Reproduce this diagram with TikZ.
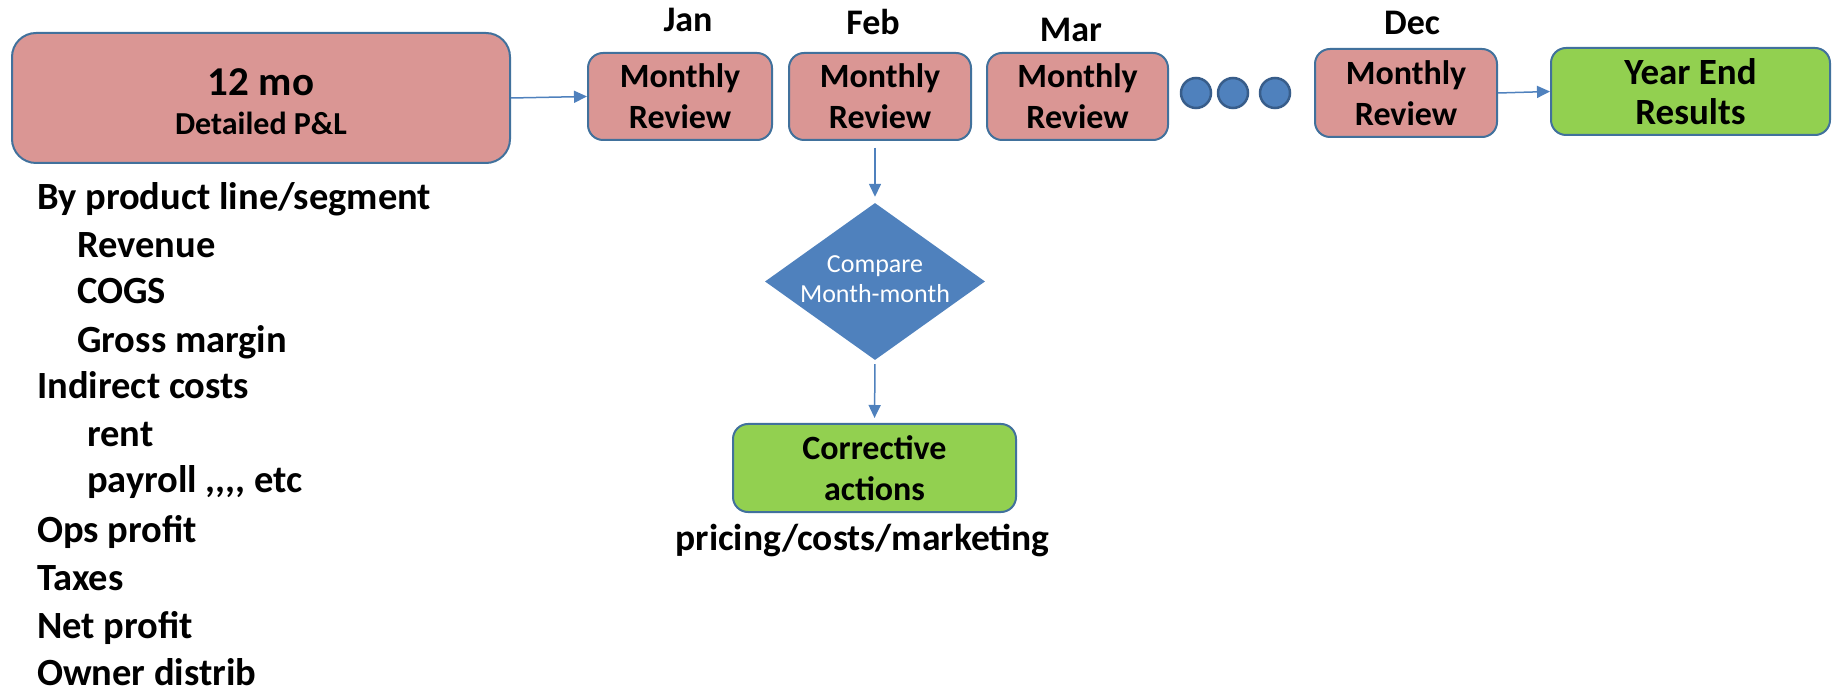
\documentclass[tikz,border=0pt]{standalone}
\usepackage{fontspec}
\setmainfont{Carlito}
\usetikzlibrary{arrows.meta,shapes.geometric}
\definecolor{boxpink}{RGB}{218,150,148}
\definecolor{boxgreen}{RGB}{146,208,80}
\definecolor{boxline}{RGB}{65,113,156}
\definecolor{flowblue}{RGB}{79,129,189}
\definecolor{dotline}{RGB}{56,93,138}
\tikzset{arrow/.style={-{Triangle[length=13pt,width=12pt]}, draw=flowblue, fill=flowblue, line width=1.5pt}}
\tikzset{review/.style={draw=boxline, fill=boxpink, line width=2pt, rounded corners=15pt, minimum height=87pt, align=center, inner sep=0pt, font=\bfseries\fontsize{34}{41}\selectfont}}
\tikzset{month/.style={anchor=base, inner sep=0pt, font=\bfseries\fontsize{36}{40}\selectfont}}
\tikzset{item/.style={anchor=base west, inner sep=0pt, font=\bfseries\fontsize{38.5}{46}\selectfont}}
\tikzset{dotnode/.style={circle, draw=dotline, fill=flowblue, line width=2.5pt, minimum size=30pt, inner sep=0pt}}

\begin{document}
\begin{tikzpicture}[x=1pt,y=1pt]
		\useasboundingbox (0,0) rectangle (1832,-692);
		
		% 12 month P&L
		\node[review, minimum width=498pt, minimum height=130pt, rounded corners=24pt] (plbox) at (261,-98) {};
		\node[anchor=base, font=\bfseries\fontsize{41}{48}\selectfont] (pltitle) at (261,-96) {12 mo};
		\node[anchor=base, font=\bfseries\fontsize{32}{36}\selectfont] (plsub) at (261,-135) {Detailed P\&L};
		
		% monthly reviews
		\node[review, minimum width=184pt] (jan) at (680,-96.5) {Monthly\\Review};
		\node[review, minimum width=182pt] (feb) at (880,-96.5) {Monthly\\Review};
		\node[review, minimum width=181pt] (mar) at (1077.5,-96.5) {Monthly\\Review};
		\node[review, minimum width=182pt, minimum height=88pt] (dec) at (1406,-93) {Monthly\\Review};
		\node[review, fill=boxgreen, minimum width=279pt, font=\bfseries\fontsize{37}{40}\selectfont] (yearend) at (1690.5,-91.5) {Year End\\Results};
		
		\node[month] (janlbl) at (688,-32) {Jan};
		\node[month] (feblbl) at (873,-35) {Feb};
		\node[month] (marlbl) at (1071,-42) {Mar};
		\node[month] (declbl) at (1412,-35) {Dec};
		
		\node[dotnode] (dot1) at (1196,-93) {};
		\node[dotnode] (dot2) at (1233,-93) {};
		\node[dotnode] (dot3) at (1275,-93) {};
		
		% compare and correct
		\node[diamond, fill=flowblue, minimum width=220pt, minimum height=157pt, inner sep=0pt] (cmp) at (875,-281.5) {};
		\node[text=white, align=center, inner sep=0pt, font=\fontsize{26}{30}\selectfont] (cmptext) at (875,-279) {Compare\\Month-month};
		\node[review, fill=boxgreen, minimum width=283pt, minimum height=88pt] (corr) at (874.5,-468) {Corrective\\actions};
		\node[anchor=base, inner sep=0pt, font=\bfseries\fontsize{37.5}{46}\selectfont] (corrnote) at (862.5,-550) {pricing/costs/marketing};
		
		\draw[arrow] (plbox.east) -- (jan.west);
		\draw[arrow] (dec.east) -- (yearend.west);
		\draw[arrow, shorten <=7pt, shorten >=6pt] (cmp.north |- feb.south) -- (cmp.north);
		\draw[arrow, shorten <=4pt, shorten >=5pt] (cmp.south) -- (corr.north);
		
		% P&L lines
		\node[item] (line1) at (37,-210) {By product line/segment};
		\node[item] (line2) at (77,-258) {Revenue};
		\node[item] (line3) at (77,-304) {COGS};
		\node[item] (line4) at (77,-353) {Gross margin};
		\node[item] (line5) at (37,-399) {Indirect costs};
		\node[item] (line6) at (87,-447) {rent};
		\node[item] (line7) at (87,-493) {payroll ,\kern0pt,\kern0pt,\kern0pt, etc};
		\node[item] (line8) at (37,-542) {Ops profit};
		\node[item] (line9) at (37,-590) {Taxes};
		\node[item] (line10) at (37,-638) {Net profit};
		\node[item] (line11) at (37,-685) {Owner distrib};
	\end{tikzpicture}
\end{document}
